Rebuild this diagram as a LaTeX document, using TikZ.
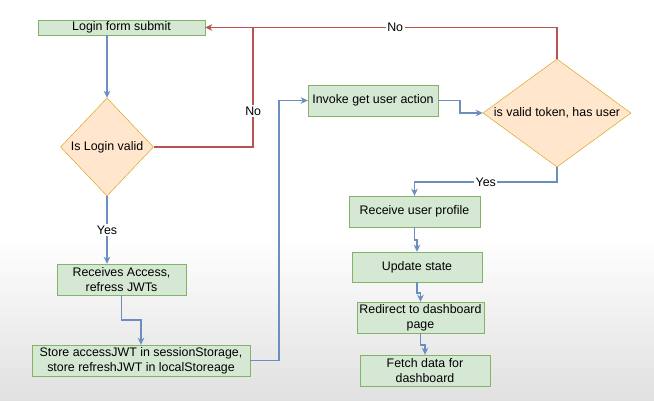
\documentclass[tikz,border=0pt]{standalone}
\usepackage{fontspec}
\setmainfont{Liberation Sans}
\usepackage{xcolor}
\usetikzlibrary{shapes.geometric, arrows.meta}
\definecolor{boxfill}{HTML}{D5E8D4}
\definecolor{boxline}{HTML}{82B366}
\definecolor{decfill}{HTML}{FFE6CC}
\definecolor{decline}{HTML}{D79B00}
\definecolor{flowblue}{HTML}{6C8EBF}
\definecolor{nored}{HTML}{B85450}

\begin{document}
\begin{tikzpicture}[x=1pt, y=-1pt, font=\fontsize{12.4}{15}\selectfont,
  box/.style={draw=boxline, fill=boxfill, inner sep=0pt, align=center},
  decision/.style={diamond, draw=decline, fill=decfill, inner sep=0pt},
  flow/.style={draw=flowblue, line width=1.7pt, -{Stealth[length=7pt,width=6.5pt,inset=2pt]}},
  noline/.style={draw=nored, line width=1.7pt},
  tag/.style={fill=white, inner sep=1.5pt}]

% background
\fill[white] (0,0) rectangle (654,400);
\shade[top color=white, bottom color=black!12] (0,235) rectangle (654,400);
\useasboundingbox (0,0) rectangle (654,400);

% left column
\node[box, minimum width=167pt, minimum height=15pt] (login) at (121.5,27.5) {Login form submit};
\node[decision, aspect=1, minimum width=93pt, minimum height=98pt] (valid) at (107,147) {Is Login valid};
\node[box, minimum width=129pt, minimum height=31pt] (recv) at (121.5,279.5) {Receives Access,\\refress JWTs};
\node[box, minimum width=218pt, minimum height=31pt] (store) at (141,360.5) {Store accessJWT in sessionStorage,\\store refreshJWT in localStoreage};

% right column
\node[box, minimum width=130pt, minimum height=31pt] (invoke) at (373,100.5) {Invoke get user action};
\node[decision, aspect=1.37, minimum width=148pt, minimum height=108pt] (token) at (557,113) {is valid token, has user};
\node[box, minimum width=131pt, minimum height=31pt] (profile) at (414.5,211.5) {Receive user profile};
\node[box, minimum width=130pt, minimum height=30pt] (update) at (417,267) {Update state};
\node[box, minimum width=127pt, minimum height=31pt] (redirect) at (420.5,317.5) {Redirect to dashboard\\page};
\node[box, minimum width=130pt, minimum height=31pt] (fetch) at (425,370.5) {Fetch data for\\dashboard};

\path (login.east) ++(48,0) coordinate (join);

% connectors
\draw[flow] (login.south -| valid.north) -- (valid.north);
\draw[flow] (valid.south) -- node[tag]{Yes} (valid.south |- recv.north);
\draw[flow] (recv.south) -- ++(0,25) -| (store.north);
\draw[flow] (store.east) -- ++(29,0) |- (invoke.west);
\draw[flow] (invoke.east) -- ++(22,0) |- (token.west);
\draw[flow] (token.south) -- ++(0,15) -| node[pos=0.25, tag]{Yes} (profile.north);
\draw[flow] (profile.south) -- ++(0,13) -| (update.north);
\draw[flow] (update.south) -- ++(0,11) -| (redirect.north);
\draw[flow] (redirect.south) -- ++(0,12) -| (fetch.north);

\draw[noline, -{Stealth[length=7pt,width=6.5pt,inset=2pt]}] (token.north) |- node[pos=0.73, tag]{No} (login.east);
\draw[noline] (valid.east) -| node[pos=0.65, tag]{No} (join);

\end{tikzpicture}
\end{document}
